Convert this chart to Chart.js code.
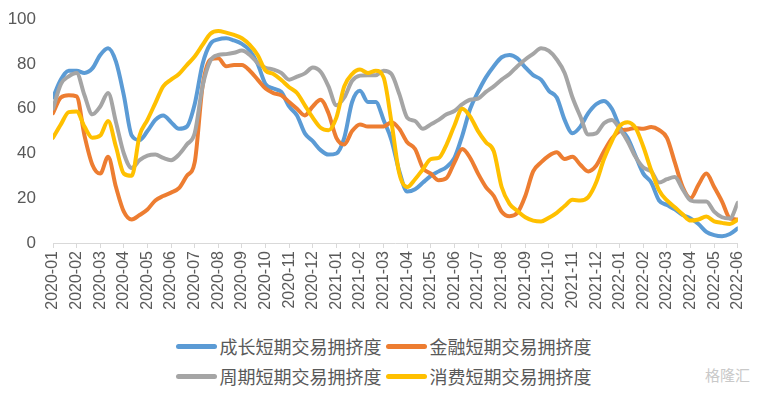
<!DOCTYPE html>
<html>
<head>
<meta charset="utf-8">
<script src="https://cdn.jsdelivr.net/npm/chart.js@4"></script>
<style>
  body { margin: 0; background: #fff; width: 760px; height: 393px; overflow: hidden; font-family: "Noto Sans CJK SC", sans-serif; }
  #wrap { position: relative; width: 760px; height: 330px; }
  #legend { position: absolute; top: 331px; left: 0; width: 760px; }
  .row { display: flex; justify-content: center; align-items: center; height: 30px; padding-left: 7px; }
  .item { display: flex; align-items: center; margin: 0 2px; }
  .sw { width: 41px; height: 5px; border-radius: 3px; margin-right: 3px; }
  .lbl { font-size: 18px; color: #595959; line-height: 30px; }
  #mark { position: absolute; left: 705px; top: 364px; font-size: 15px; color: #c9c9c9; }
</style>
</head>
<body>
<div id="wrap"><canvas id="chart"></canvas></div>
<div id="legend"></div>
<div id="mark">格隆汇</div>
<script>
// month tick labels, one per axis tick
const months = [
  '2020-01','2020-02','2020-03','2020-04','2020-05','2020-06','2020-07','2020-08','2020-09','2020-10','2020-11','2020-12',
  '2021-01','2021-02','2021-03','2021-04','2021-05','2021-06','2021-07','2021-08','2021-09','2021-10','2021-11','2021-12',
  '2022-01','2022-02','2022-03','2022-04','2022-05','2022-06'
];

// readings every 1/3 month, starting 2020-01
const STEP = 1 / 3;

const growth = [
  65, 73, 77, 77, 76, 78, 84, 87, 81, 66, 48, 46, 50, 55, 57, 54, 51, 52, 62, 80, 89, 91, 91.5, 90.5, 89, 86, 80, 71, 69, 67.5,
  61, 57, 49, 45.5, 41.5, 39.5, 40, 47, 63, 68, 63, 63, 55, 46, 32, 23, 24, 27, 30, 32, 34, 38, 48, 60, 67.5, 74, 79, 83, 84, 82.5,
  78.5, 75, 73, 68, 65, 55, 49, 52, 58, 62, 63.5, 60, 52, 47, 39, 31, 27, 19, 17, 15, 12.5, 11, 8.5, 5, 3.5, 3, 4, 6.5
];
const finance = [
  58, 65, 66, 65.5, 48, 35, 31, 38.5, 25, 14, 10.5, 12.5, 15, 19, 21, 22.5, 24.5, 30, 36, 70, 82, 82.5, 79, 79.5, 79.5, 77, 73, 69, 67, 66,
  63, 60, 57, 61, 64, 58, 47, 44, 50, 53, 52, 52, 52, 54, 51, 45, 42, 33.5, 31, 28, 29, 36, 42, 38, 31, 25, 21, 14, 12, 13.5,
  21, 32, 36, 39, 40.5, 37.5, 38.5, 35, 32, 34.5, 41, 46.7, 50, 50.7, 51.4, 51, 51.8, 50.5, 47, 36, 25, 20, 26, 31, 25, 18.5, 11, 10.5
];
const cyclical = [
  60, 71, 74.5, 76, 66, 57.5, 61, 67, 54, 40, 33.5, 37, 39, 39.5, 38, 37, 39.5, 44, 49, 70, 81.5, 84, 84.4, 85, 86, 84, 80.5, 78.3, 77.5, 76,
  73, 74.3, 75.8, 78.4, 76.5, 70, 61.5, 65, 72.5, 74.8, 75, 75, 77, 75.5, 66.5, 56, 54.5, 51, 53, 55, 57.5, 59, 62, 64, 64.5, 67.5, 70, 73, 75.5, 79,
  82, 84.5, 87, 85.8, 82, 76, 65, 56.5, 48.5, 49, 53.5, 55, 51, 45.5, 38.5, 33.7, 32, 27, 28.5, 29.5, 24, 19, 18.5, 18.5, 14, 11.5, 11, 18
];
const consumer = [
  47, 53, 58.5, 58.8, 52, 47, 48, 54.5, 43, 31, 30, 48, 55, 62.5, 70, 73, 75.5, 79.5, 83.3, 88.5, 93.5, 94.7, 94, 93, 91.5, 88.5, 84, 77, 75.5, 72.8,
  69.6, 67, 61.5, 56, 51.5, 50.4, 56, 70, 75.5, 77.5, 76, 77, 74, 54, 31, 25, 28.5, 33, 37.5, 38, 44, 52.5, 60, 56.5, 50, 45, 41, 25, 17.5, 14.3,
  11.5, 10, 9.6, 11.3, 13.5, 16.5, 19.3, 19, 20.5, 27, 37.5, 45.5, 52.3, 54, 51.5, 43, 32.5, 23.5, 19, 16, 12.8, 10, 10.5, 11.8, 9.7, 9, 8.5, 10.4
];

const seriesNames = ['成长短期交易拥挤度', '金融短期交易拥挤度', '周期短期交易拥挤度', '消费短期交易拥挤度'];
const seriesColors = ['#5B9BD5', '#ED7D31', '#A5A5A5', '#FFC000'];
const seriesValues = [growth, finance, cyclical, consumer];

const toPoints = arr => arr.map((v, i) => ({ x: i * STEP, y: v }));

const datasets = seriesValues.map((vals, i) => ({
  label: seriesNames[i],
  data: toPoints(vals),
  borderColor: seriesColors[i],
  backgroundColor: seriesColors[i],
  borderWidth: 4,
  pointRadius: 0,
  cubicInterpolationMode: 'monotone',
  borderCapStyle: 'round',
  borderJoinStyle: 'round',
  order: 4 - i // later series on top, like the original
}));

const tickFamily = '"Liberation Sans", Arial, sans-serif';

new Chart(document.getElementById('chart'), {
  type: 'line',
  data: { datasets },
  options: {
    responsive: true,
    maintainAspectRatio: false,
    animation: false,
    layout: { padding: { top: 10, right: 18, left: 0, bottom: 0 } },
    plugins: { legend: { display: false }, tooltip: { enabled: false } },
    scales: {
      x: {
        type: 'linear',
        min: 0,
        max: months.length - 1,
        grid: { display: true, drawOnChartArea: false, drawTicks: true, tickLength: 5, color: '#d9d9d9' },
        border: { color: '#d9d9d9', width: 1 },
        ticks: {
          stepSize: 1,
          autoSkip: false,
          maxRotation: 90,
          minRotation: 90,
          padding: 3,
          color: '#595959',
          font: { family: tickFamily, size: 16 },
          callback: v => months[v]
        },
        afterFit: s => { s.height = 87; }
      },
      y: {
        min: 0,
        max: 100,
        grid: { display: false },
        border: { display: false },
        ticks: { stepSize: 10, padding: 9, color: '#595959', font: { family: tickFamily, size: 17 } },
        afterFit: s => { s.width = 53; }
      }
    }
  }
});

// legend: two rows of two, like the original
const legend = document.getElementById('legend');
[[0, 1], [2, 3]].forEach(pair => {
  const row = document.createElement('div');
  row.className = 'row';
  pair.forEach(i => {
    const item = document.createElement('div');
    item.className = 'item';
    item.innerHTML = '<span class="sw" style="background:' + seriesColors[i] + '"></span><span class="lbl">' + seriesNames[i] + '</span>';
    row.appendChild(item);
  });
  legend.appendChild(row);
});
</script>
</body>
</html>
